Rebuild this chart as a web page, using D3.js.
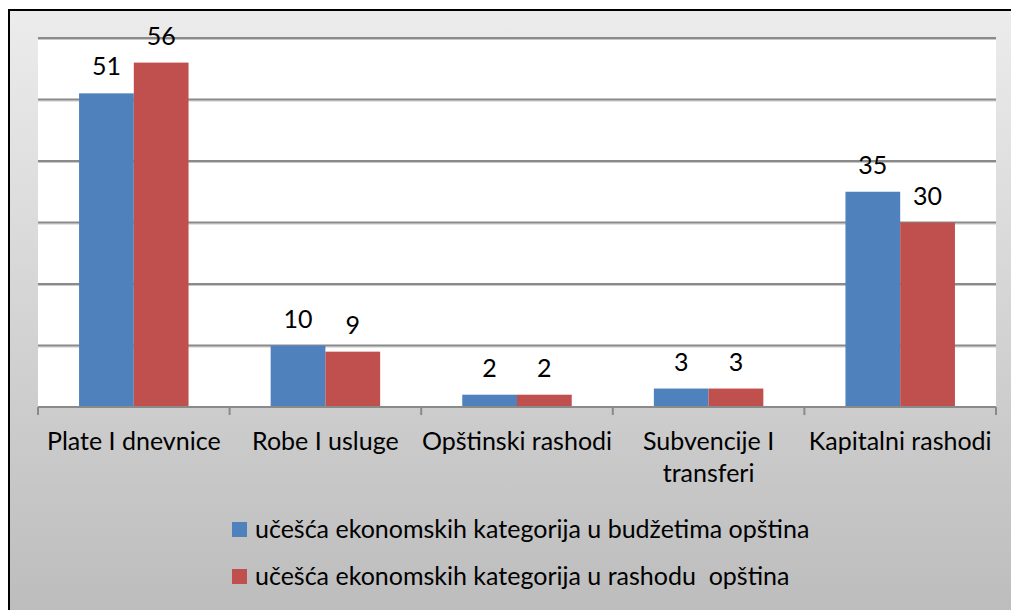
<!DOCTYPE html>
<html>
<head>
<meta charset="utf-8">
<script src="https://cdn.jsdelivr.net/npm/d3@7"></script>
<style>
  body { margin: 0; background: #fff; }
  #chart text { font-family: Lato, "Open Sans", sans-serif; fill: #000; }
</style>
</head>
<body>
<div id="chart"></div>
<script>
// Kategorije i vrijednosti
var categories = ["Plate I dnevnice", "Robe I usluge", "Opštinski rashodi", "Subvencije I transferi", "Kapitalni rashodi"];
var budzet = [51, 10, 2, 3, 35];
var rashod = [56, 9, 2, 3, 30];
var seriesNames = ["učešća ekonomskih kategorija u budžetima opština", "učešća ekonomskih kategorija u rashodu  opština"];
var seriesColors = ["#4f81bd", "#c0504d"];
var yTicks = [0, 10, 20, 30, 40, 50, 60];

function createBarChart() {
  var W = 1011, H = 610;
  var fs = "25px";
  var svg = d3.select("#chart").append("svg")
      .attr("width", W).attr("height", H);

  // pozadina sa gradijentom
  var grad = svg.append("defs").append("linearGradient")
      .attr("id", "bg").attr("x1", 0).attr("y1", 0).attr("x2", 0).attr("y2", 1);
  grad.append("stop").attr("offset", "0%").attr("stop-color", "#ececec");
  grad.append("stop").attr("offset", "100%").attr("stop-color", "#bcbcbc");

  svg.append("rect").attr("x", 9).attr("y", 10).attr("width", W).attr("height", H)
      .attr("fill", "url(#bg)").attr("stroke", "#000").attr("stroke-width", 2);

  var left = 38, right = 996, top = 38, bottom = 407;

  var x = d3.scaleBand().domain(categories).range([left, right]).paddingInner(0).paddingOuter(0);
  var x1 = d3.scaleBand().domain([0, 1]).range([0, x.bandwidth()]).paddingOuter(0.75).paddingInner(0);
  var y = d3.scaleLinear().domain([0, 60]).range([bottom, top]);

  // bijela površina
  svg.append("rect").attr("x", left).attr("y", top).attr("width", right - left).attr("height", bottom - top)
      .attr("fill", "#fff");

  // mreža
  var grid = svg.append("g");
  grid.selectAll("line.sh").data(yTicks.slice(1)).enter().append("line")
      .attr("x1", left).attr("x2", right)
      .attr("y1", function(d) { return y(d) + 1.5; }).attr("y2", function(d) { return y(d) + 1.5; })
      .attr("stroke", "#c8c8c8").attr("stroke-width", 1);
  grid.selectAll("line.gl").data(yTicks.slice(1)).enter().append("line")
      .attr("x1", left).attr("x2", right)
      .attr("y1", function(d) { return y(d); }).attr("y2", function(d) { return y(d); })
      .attr("stroke", "#8a8a8a").attr("stroke-width", 2);

  // stubci
  var series = [budzet, rashod];
  var g = svg.append("g");
  series.forEach(function(vals, si) {
    g.selectAll("rect.s" + si).data(vals).enter().append("rect")
      .attr("x", function(d, i) { return x(categories[i]) + x1(si); })
      .attr("y", function(d) { return y(d); })
      .attr("width", x1.bandwidth())
      .attr("height", function(d) { return y(0) - y(d); })
      .attr("fill", seriesColors[si]);
    g.selectAll("text.l" + si).data(vals).enter().append("text")
      .attr("x", function(d, i) { return x(categories[i]) + x1(si) + x1.bandwidth() / 2; })
      .attr("y", function(d) { return y(d) - 18; })
      .attr("text-anchor", "middle")
      .style("font-size", fs)
      .text(function(d) { return d; });
  });

  // x osa
  var ax = svg.append("g").attr("transform", "translate(0," + bottom + ")");
  ax.append("line").attr("x1", left).attr("x2", right).attr("stroke", "#8a8a8a").attr("stroke-width", 2);
  var bounds = categories.map(function(c) { return x(c); }).concat([right]);
  ax.selectAll("line.t").data(bounds).enter().append("line")
      .attr("x1", function(d) { return d; }).attr("x2", function(d) { return d; })
      .attr("y1", 0).attr("y2", 8).attr("stroke", "#8a8a8a").attr("stroke-width", 2);

  var labels = svg.append("g");
  categories.forEach(function(c) {
    var lines = c === "Subvencije I transferi" ? ["Subvencije I", "transferi"] : [c];
    var t = labels.append("text")
      .attr("x", x(c) + x.bandwidth() / 2)
      .attr("y", 450)
      .attr("text-anchor", "middle")
      .style("font-size", fs);
    lines.forEach(function(l, i) {
      t.append("tspan").attr("x", x(c) + x.bandwidth() / 2).attr("dy", i ? 32 : 0).text(l);
    });
  });

  // legenda
  var leg = svg.append("g");
  seriesNames.forEach(function(n, i) {
    var yy = 522 + i * 47;
    leg.append("rect").attr("x", 232).attr("y", yy).attr("width", 15).attr("height", 15)
      .attr("fill", seriesColors[i]);
    leg.append("text").attr("x", 255).attr("y", yy + 16)
      .style("font-size", fs).style("white-space", "pre")
      .attr("xml:space", "preserve")
      .text(n);
  });
}

document.addEventListener("DOMContentLoaded", function() {
  createBarChart();
});
</script>
</body>
</html>
